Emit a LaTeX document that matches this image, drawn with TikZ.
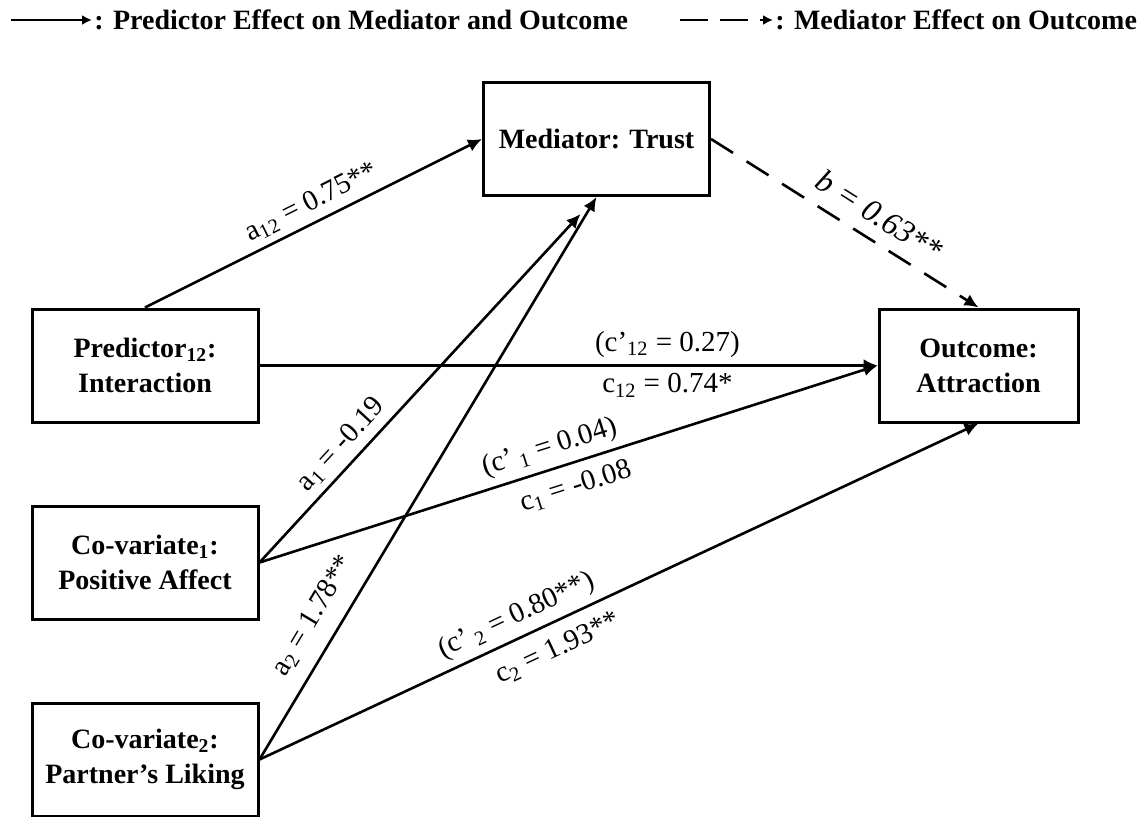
\documentclass[tikz,border=0pt]{standalone}
\usepackage{fontspec}
\setmainfont{Liberation Serif}
\usetikzlibrary{arrows.meta,positioning}

\begin{document}
\begin{tikzpicture}[
  x=0.5pt,y=-0.5pt,
  >={Latex[length=7pt,width=6.5pt]},
  font=\fontsize{14}{17.5}\selectfont,
  node distance=40.5pt,
  var/.style={draw,line width=1.5pt,minimum width=113pt,minimum height=56.5pt,
    align=center,font=\fontsize{14}{17.5}\selectfont\bfseries},
  path/.style={->,line width=1.3pt},
  medpath/.style={path,dash pattern=on 13pt off 8pt},
  coef/.style={sloped,font=\fontsize{14.5}{16}\selectfont},
  key/.style={anchor=west,inner sep=1pt,font=\fontsize{14}{16}\selectfont\bfseries}
]
  \useasboundingbox (0,0) rectangle (1141,816);

  % legend
  \coordinate (keysolid) at (11,20);
  \node[key] (keytext1) at (92,20) {: Predictor Effect on Mediator and Outcome};
  \coordinate (keydash) at (680,20);
  \node[key] (keytext2) at (773,20) {: Mediator Effect on Outcome};
  \draw[path,-{Latex[length=5pt,width=5pt]}] (keysolid) -- (keytext1.west);
  \draw[path,dash pattern=on 14pt off 6pt,-{Latex[length=5pt,width=5pt]}] (keydash) -- (keytext2.west);

  % variables
  \node[var] (pred) at (145,365.5) {Predictor\textsubscript{12}:\\Interaction};
  \node[var,below=of pred] (cov1) {Co-variate\textsubscript{1}:\\Positive Affect};
  \node[var,below=of cov1] (cov2) {Co-variate\textsubscript{2}:\\Partner’s Liking};
  \node[var] (med) at (596.5,139) {Mediator: Trust};
  \node[var,minimum width=99.5pt] (out) at (978.5,365.5) {Outcome:\\Attraction};
  \coordinate (a1tip) at ([shift={(-16,17)}]med.south);

  % paths
  \draw[path] (pred.north) -- node[coef,above,pos=0.52] {a\textsubscript{12} = 0.75**} (med.west);
  \draw[path] (cov1.east) -- node[coef,above,pos=0.3] {a\textsubscript{1} = -0.19} (a1tip);
  \draw[path] (cov2.east) -- node[coef,above=4pt,pos=0.23] {a\textsubscript{2} = 1.78**} (med.south);
  \draw[path] (pred.east) -- node[coef,above,pos=0.66] {(c’\textsubscript{12} = 0.27)}
    node[coef,below,pos=0.66] {c\textsubscript{12} = 0.74*} (out.west);
  \draw[path] (cov1.east) -- node[coef,above,pos=0.48] {(c’\,\textsubscript{1} = 0.04)}
    node[coef,below=2pt,pos=0.5] {c\textsubscript{1} = -0.08} (out.west);
  \draw[path] (cov2.east) -- node[coef,above,pos=0.37] {(c’\,\textsubscript{2} = 0.80**)}
    node[coef,below=3pt,pos=0.4] {c\textsubscript{2} = 1.93**} (out.south);
  \draw[medpath] (med.east) -- node[coef,above=3pt,pos=0.58,font=\fontsize{16}{18}\selectfont]
    {\textit{b = 0.63**}} (out.north);
\end{tikzpicture}
\end{document}
